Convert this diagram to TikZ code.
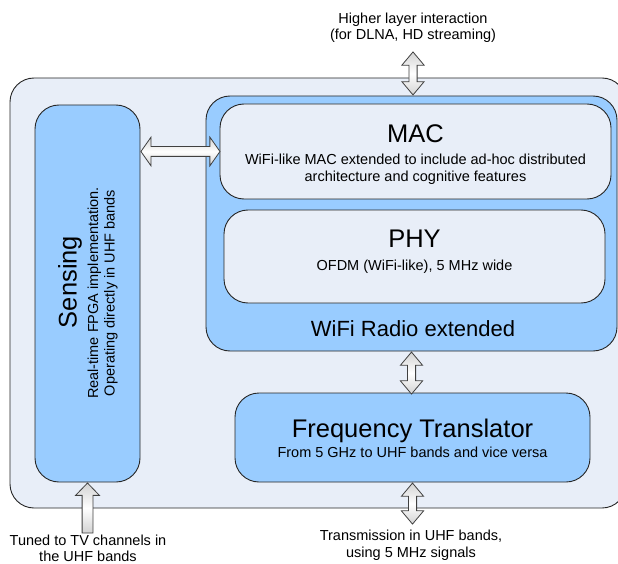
\documentclass[tikz,border=0pt]{standalone}
\usepackage{fontspec}
\setmainfont{Liberation Sans}
\usetikzlibrary{shapes.arrows,positioning}

\definecolor{panelbg}{HTML}{E8EEF8}
\definecolor{boxblue}{HTML}{99CCFF}
\definecolor{edgegray}{HTML}{404040}

\tikzset{
  roundbox/.style={draw=black!85, line width=0.9pt, rounded corners=24pt, inner sep=0pt},
  panel/.style={roundbox, fill=panelbg},
  bluebox/.style={roundbox, fill=boxblue},
  linkarrow/.style={double arrow, draw=edgegray, line width=0.8pt,
    top color=gray!35, bottom color=gray!35, middle color=white,
    inner sep=0pt, inner ysep=3.7pt,
    double arrow head extend=7pt, double arrow tip angle=80},
  widelink/.style={linkarrow, inner ysep=4.5pt,
    double arrow head extend=9.5pt, double arrow tip angle=110},
  feedarrow/.style={single arrow, draw=edgegray, line width=0.8pt,
    top color=gray!35, bottom color=gray!35, middle color=white,
    inner sep=0pt, inner ysep=5pt,
    single arrow head extend=6.5pt, single arrow tip angle=88},
  title/.style={font=\fontsize{25.5}{30}\selectfont},
  subtitle/.style={font=\fontsize{22}{26}\selectfont},
  note/.style={align=center, font=\fontsize{14.5}{16.5}\selectfont}
}

\begin{document}
\begin{tikzpicture}[x=1pt, y=-1pt]
  \useasboundingbox (0,0) rectangle (618,564);

  % board and blocks
  \node[panel, minimum width=616pt, minimum height=430pt] (board) at (318,293) {};
  \node[bluebox, minimum width=105pt, minimum height=377pt] (sensing) at (87.5,293.5) {};
  \node[bluebox, minimum width=411pt, minimum height=255pt] (wifi) at (411.5,223.5) {};
  \node[panel, minimum width=391pt, minimum height=95pt] (mac) at (415.5,151.5) {};
  \node[panel, minimum width=381pt, minimum height=93pt] (phy) at (414.5,256.5) {};
  \node[bluebox, minimum width=355pt, minimum height=89pt] (ft) at (412.5,437.5) {};

  % block texts
  \node[title, rotate=90] (sensingtitle) at (70,282) {Sensing};
  \node[note, rotate=90] (sensingnote) at (102.5,293) {Real-time FPGA implementation.\\Operating directly in UHF bands};
  \node[title] (mactitle) at (415.5,133.5) {MAC};
  \node[note] (macnote) at (415.5,169.5) {WiFi-like MAC extended to include ad-hoc distributed\\architecture and cognitive features};
  \node[title] (phytitle) at (414.5,239) {PHY};
  \node[note] (phynote) at (414.5,267) {OFDM (WiFi-like), 5 MHz wide};
  \node[subtitle] (wifititle) at (413,328.5) {WiFi Radio extended};
  \node[title] (fttitle) at (412.5,430.5) {Frequency Translator};
  \node[note] (ftnote) at (412.5,452.5) {From 5 GHz to UHF bands and vice versa};

  % links between the blocks
  \node[linkarrow, rotate=90, minimum height=43pt, anchor=west] (hllink) at ([xshift=1.5pt]wifi.north) {};
  \node[widelink, minimum height=79pt, anchor=west] (senselink) at (sensing.east |- mac.west) {};
  \node[linkarrow, rotate=-90, minimum height=42pt, anchor=west] (radiolink) at (wifi.south) {};
  \node[linkarrow, rotate=-90, minimum height=41pt, anchor=west] (uhflink) at (ft.south) {};
  \node[feedarrow, rotate=90, minimum height=50pt, anchor=tip] (tvfeed) at (sensing.south) {};

  % outside notes
  \node[note] (hlnote) at (413,28) {Higher layer interaction\\(for DLNA, HD streaming)};
  \node[note] (tvnote) at (88,548.5) {Tuned to TV channels in\\the UHF bands};
  \node[note] (uhfnote) at (411,545) {Transmission in UHF bands,\\using 5 MHz signals};
\end{tikzpicture}
\end{document}
